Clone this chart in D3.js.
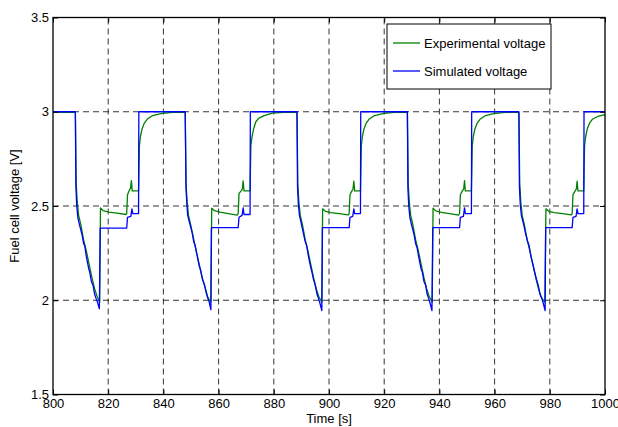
<!DOCTYPE html>
<html>
<head>
<meta charset="utf-8">
<title>Fuel cell voltage</title>
<script src="https://d3js.org/d3.v7.min.js"></script>
<style>
  body { margin: 0; background: #fff; }
  svg { font-family: "Liberation Sans", Arial, sans-serif; }
</style>
</head>
<body>
<svg id="chart" width="618" height="427"></svg>
<script>
// axis ticks
var xTicks = [800, 820, 840, 860, 880, 900, 920, 940, 960, 980, 1000];
var yTicks = [1.5, 2, 2.5, 3, 3.5];

var experimental = [
  [800,2.997],[808.1,2.997],[808.4,2.62],[808.8,2.52],[809.3,2.45],[810.1,2.40],[811.1,2.32],[812.1,2.26],[813.1,2.19],[814.1,2.12],[815.1,2.06],[816.0,2.02],[816.6,2.00],[816.9,1.99],
  [817.2,2.49],[818.2,2.475],[820.2,2.468],[823.2,2.462],[826.4,2.455],[826.7,2.46],[827.0,2.56],[827.7,2.585],[828.1,2.595],[828.4,2.635],[828.7,2.58],[831.0,2.58],
  [831.3,2.82],[831.7,2.87],[832.3,2.91],[833.1,2.94],[834.1,2.96],[836.1,2.98],[839.1,2.99],[843.1,2.997],[847.9,2.997],
  [848.2,2.62],[848.6,2.52],[849.1,2.45],[849.9,2.40],[850.9,2.33],[851.9,2.26],[853.0,2.19],[854.0,2.12],[855.1,2.07],[856.0,2.02],[856.7,2.00],[857.2,1.99],
  [857.5,2.488],[858.5,2.475],[860.5,2.467],[863.5,2.46],[866.8,2.452],[867.1,2.46],[867.4,2.567],[868.2,2.58],[868.6,2.59],[868.9,2.633],[869.2,2.58],[871.4,2.58],
  [871.7,2.82],[872.1,2.867],[872.7,2.91],[873.5,2.947],[874.5,2.965],[876.5,2.979],[879.5,2.993],[883.5,2.997],[888.4,2.997],
  [888.7,2.62],[889.1,2.52],[889.6,2.45],[890.4,2.40],[891.4,2.32],[892.4,2.26],[893.4,2.19],[894.4,2.12],[895.4,2.06],[896.3,2.02],[897.0,2.00],[897.4,1.99],
  [897.7,2.485],[898.7,2.472],[900.7,2.465],[903.7,2.46],[907.0,2.453],[907.3,2.46],[907.6,2.56],[908.3,2.58],[908.7,2.59],[909.0,2.632],[909.3,2.58],[911.4,2.58],
  [911.7,2.82],[912.1,2.87],[912.7,2.91],[913.5,2.94],[914.5,2.96],[916.5,2.98],[919.5,2.99],[923.5,2.997],[928.4,2.997],
  [928.7,2.62],[929.1,2.52],[929.6,2.45],[930.4,2.40],[931.4,2.32],[932.4,2.26],[933.4,2.19],[934.4,2.12],[935.4,2.06],[936.3,2.02],[937.0,2.00],[937.4,1.99],
  [937.7,2.488],[938.7,2.474],[940.7,2.466],[943.7,2.46],[947.0,2.452],[947.3,2.46],[947.6,2.56],[948.4,2.583],[948.8,2.59],[949.1,2.635],[949.4,2.58],[951.6,2.58],
  [951.9,2.82],[952.3,2.87],[952.9,2.91],[953.7,2.94],[954.7,2.96],[956.7,2.98],[959.7,2.99],[963.7,2.997],[968.8,2.997],
  [969.1,2.62],[969.5,2.52],[970.0,2.45],[970.8,2.40],[971.8,2.32],[972.8,2.26],[973.9,2.19],[974.9,2.12],[975.9,2.06],[976.8,2.02],[977.6,2.00],[978.2,1.99],
  [978.6,2.485],[979.6,2.472],[981.6,2.465],[984.6,2.46],[987.8,2.453],[988.1,2.46],[988.4,2.56],[989.2,2.58],[989.6,2.59],[989.9,2.632],[990.2,2.58],[992.3,2.58],
  [992.6,2.82],[993.0,2.87],[993.6,2.91],[994.4,2.94],[995.4,2.96],[997.4,2.975],[1000,2.985]
];

// model output
var simulated = [
  [800,3.0],
  [808.1,3.0],[808.3,2.60],[808.6,2.50],[809.0,2.44],[809.6,2.40],[810.5,2.35],[811.1,2.30],[811.5,2.29],[812.1,2.23],[812.9,2.17],[813.3,2.15],[813.9,2.10],[814.5,2.08],[815.1,2.03],[815.6,2.01],[816.1,1.99],[816.8,1.955],
  [817.1,2.383],[826.7,2.383],[827.0,2.44],[828.2,2.445],[828.6,2.485],[828.9,2.46],[831.0,2.46],[831.1,3.0],
  [847.9,3.0],[848.2,2.59],[848.5,2.51],[848.8,2.45],[849.5,2.41],[850.4,2.36],[851.0,2.31],[851.5,2.29],[852.2,2.24],[853.0,2.18],[853.5,2.16],[854.2,2.11],[854.9,2.08],[855.5,2.04],[856.1,2.01],[856.6,1.99],[857.2,1.95],
  [857.4,2.385],[867.1,2.385],[867.4,2.44],[868.5,2.45],[868.9,2.49],[869.2,2.455],[871.4,2.455],[871.5,3.0],
  [888.4,3.0],[888.6,2.60],[888.9,2.51],[889.3,2.45],[889.9,2.41],[890.8,2.35],[891.4,2.31],[891.9,2.29],[892.6,2.23],[893.3,2.18],[893.8,2.15],[894.4,2.11],[895.0,2.08],[895.7,2.03],[896.2,2.01],[896.8,1.98],[897.4,1.945],
  [897.6,2.385],[907.3,2.385],[907.6,2.44],[908.6,2.445],[909.0,2.485],[909.3,2.46],[911.4,2.46],[911.5,3.0],
  [928.4,3.0],[928.6,2.59],[928.9,2.50],[929.3,2.44],[929.9,2.40],[930.8,2.35],[931.4,2.30],[931.9,2.28],[932.5,2.23],[933.3,2.17],[933.8,2.15],[934.4,2.10],[935.0,2.08],[935.6,2.03],[936.1,2.01],[936.7,1.98],[937.3,1.945],
  [937.6,2.385],[947.3,2.385],[947.6,2.44],[948.7,2.445],[949.1,2.49],[949.4,2.46],[951.6,2.46],[951.7,3.0],
  [968.8,3.0],[969.0,2.60],[969.3,2.51],[969.7,2.45],[970.4,2.41],[971.3,2.35],[972.0,2.31],[972.5,2.29],[973.2,2.23],[974.0,2.18],[974.5,2.15],[975.2,2.11],[975.8,2.08],[976.5,2.03],[977.1,2.01],[977.7,1.98],[978.3,1.945],
  [978.5,2.385],[988.1,2.385],[988.4,2.44],[989.5,2.445],[989.9,2.485],[990.2,2.46],[992.3,2.46],[992.4,3.0],[1000,3.0]
];

var seriesNames = ["Experimental voltage", "Simulated voltage"];
var seriesColors = ["#008000", "#0000ff"];

var svg = d3.select("#chart");
var pLeft = 53, pRight = 605, pTop = 17.5, pBottom = 394.5;
var fs = 13;

var x = d3.scaleLinear().domain([800, 1000]).range([pLeft, pRight]);
var y = d3.scaleLinear().domain([1.5, 3.5]).range([pBottom, pTop]);

// dashed grid
var grid = svg.append("g").attr("stroke", "#000").attr("stroke-width", 0.8)
  .attr("stroke-dasharray", "6,4").attr("fill", "none");
grid.selectAll(".gx").data(xTicks.slice(1, -1)).enter().append("line")
  .attr("x1", function(d){ return x(d); }).attr("x2", function(d){ return x(d); })
  .attr("y1", pBottom).attr("y2", pTop);
grid.selectAll(".gy").data(yTicks.slice(1, -1)).enter().append("line")
  .attr("y1", function(d){ return y(d); }).attr("y2", function(d){ return y(d); })
  .attr("x1", pLeft).attr("x2", pRight);

// data lines
var line = d3.line().x(function(d){ return x(d[0]); }).y(function(d){ return y(d[1]); });
[experimental, simulated].forEach(function(s, i) {
  svg.append("path").datum(s).attr("d", line)
    .attr("fill", "none").attr("stroke", seriesColors[i])
    .attr("stroke-width", 1.3).attr("stroke-linejoin", "round");
});

// axes, ticks inside like matlab
function styleAxis(g) {
  g.selectAll("text").attr("font-size", fs).attr("fill", "#000")
    .attr("font-family", "'Liberation Sans', Arial, sans-serif");
  g.selectAll("line").attr("stroke", "#000");
  g.select(".domain").remove();
}
svg.append("g").attr("transform", "translate(0," + pBottom + ")")
  .call(d3.axisBottom(x).tickValues(xTicks).tickSize(-5).tickPadding(4).tickFormat(d3.format("d")))
  .call(styleAxis);
svg.append("g").attr("transform", "translate(0," + pTop + ")")
  .call(d3.axisTop(x).tickValues(xTicks).tickSize(-5).tickFormat(""))
  .call(styleAxis);
svg.append("g").attr("transform", "translate(" + pLeft + ",0)")
  .call(d3.axisLeft(y).tickValues(yTicks).tickSize(-5).tickPadding(4).tickFormat(d3.format("~g")))
  .call(styleAxis);
svg.append("g").attr("transform", "translate(" + pRight + ",0)")
  .call(d3.axisRight(y).tickValues(yTicks).tickSize(-5).tickFormat(""))
  .call(styleAxis);

svg.append("rect").attr("x", pLeft).attr("y", pTop)
  .attr("width", pRight - pLeft).attr("height", pBottom - pTop)
  .attr("fill", "none").attr("stroke", "#000").attr("stroke-width", 1.3);

// axis labels
svg.append("text").attr("x", (pLeft + pRight) / 2).attr("y", 423)
  .attr("text-anchor", "middle").attr("font-size", fs).text("Time [s]");
svg.append("text").attr("transform", "translate(19," + ((pTop + pBottom) / 2) + ") rotate(-90)")
  .attr("text-anchor", "middle").attr("font-size", fs).text("Fuel cell voltage [V]");

// legend
var lg = svg.append("g").attr("transform", "translate(387,24)");
lg.append("rect").attr("width", 164).attr("height", 65)
  .attr("fill", "#fff").attr("stroke", "#000").attr("stroke-width", 1);
seriesNames.forEach(function(name, i) {
  var yy = 19 + i * 28;
  lg.append("line").attr("x1", 6).attr("x2", 33).attr("y1", yy).attr("y2", yy)
    .attr("stroke", seriesColors[i]).attr("stroke-width", 1.3);
  lg.append("text").attr("x", 37).attr("y", yy + 4.6).attr("font-size", fs).text(name);
});
</script>
</body>
</html>
